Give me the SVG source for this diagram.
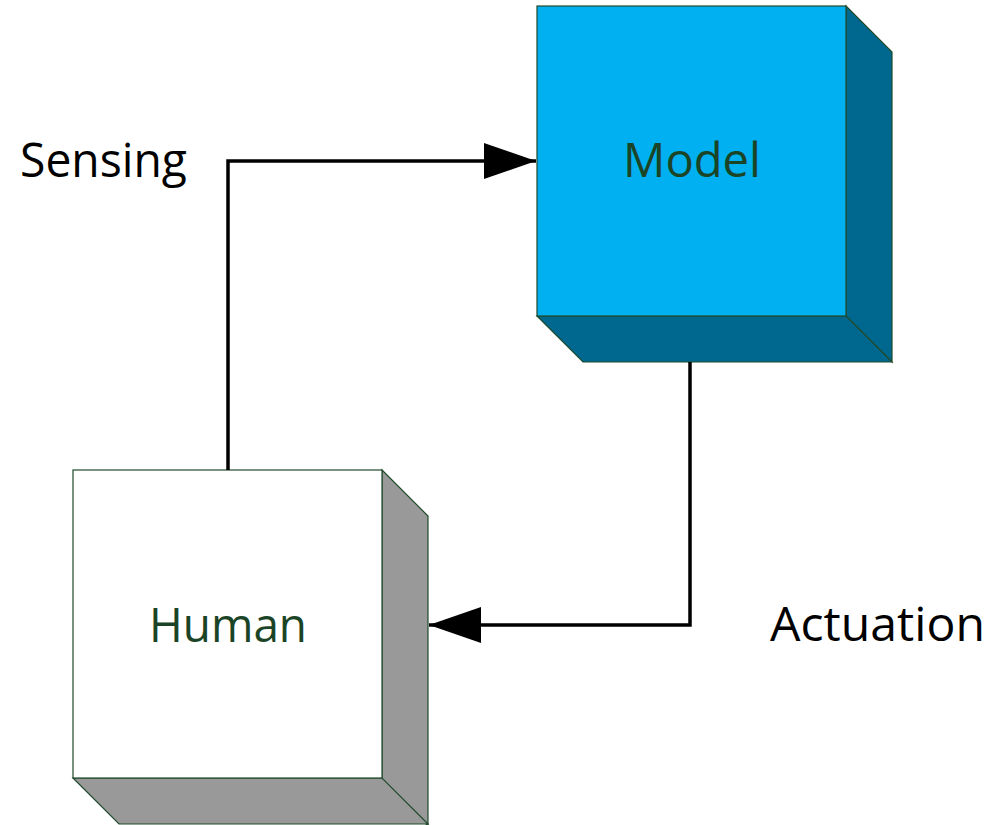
<svg xmlns="http://www.w3.org/2000/svg" width="995" height="825" viewBox="0 0 995 825">
  <style>
    .edge { stroke: #204a2c; stroke-width: 1.2; stroke-linejoin: miter; }
    .label { font-family: "Open Sans", "Liberation Sans", sans-serif; font-size: 47px; text-anchor: middle; fill: #1b4426; }
    .cap { font-family: "Open Sans", "Liberation Sans", sans-serif; font-size: 47px; fill: #000000; }
    .wire { fill: none; stroke: #000000; stroke-width: 3.5; }
  </style>
  <defs>
    <marker id="head" viewBox="0 0 52 36" refX="52" refY="18" markerWidth="52" markerHeight="36" markerUnits="userSpaceOnUse" orient="auto">
      <path d="M0,0 L52,18 L0,36 Z" fill="#000000"/>
    </marker>
  </defs>
  <rect width="995" height="825" fill="#ffffff"/>

  <g id="model">
    <polygon class="edge" points="846,6 892,52 892,362 846,316" fill="#00688f"/>
    <polygon class="edge" points="537,316 846,316 892,362 583,362" fill="#00688f"/>
    <rect class="edge" x="537" y="6" width="309" height="310" fill="#00b0f0"/>
    <text class="label" x="692" y="177" textLength="138" lengthAdjust="spacingAndGlyphs">Model</text>
  </g>

  <g id="human">
    <polygon class="edge" points="382,470 428,516 428,826 382,780" fill="#999999"/>
    <polygon class="edge" points="73,778 382,778 428,824 119,824" fill="#999999"/>
    <rect class="edge" x="73" y="470" width="309" height="308" fill="#ffffff"/>
    <text class="label" x="228" y="642" textLength="158" lengthAdjust="spacingAndGlyphs">Human</text>
  </g>

  <g id="connectors">
    <polyline class="wire" points="228,470 228,161 536,161" marker-end="url(#head)"/>
    <polyline class="wire" points="690,362 690,625 429,625" marker-end="url(#head)"/>
  </g>

  <g id="captions">
    <text class="cap" x="20" y="177" textLength="167" lengthAdjust="spacingAndGlyphs">Sensing</text>
    <text class="cap" x="770" y="641" textLength="215" lengthAdjust="spacingAndGlyphs">Actuation</text>
  </g>
</svg>
